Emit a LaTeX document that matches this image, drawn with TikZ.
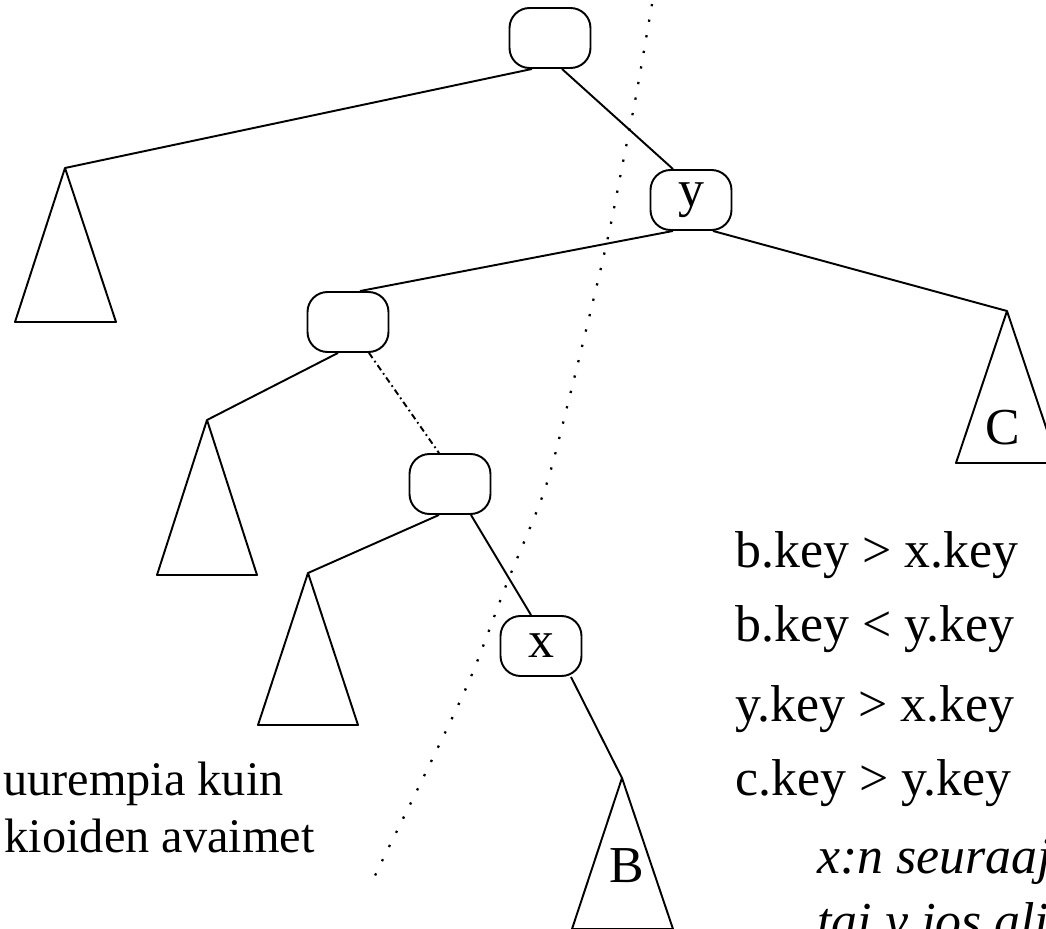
\documentclass[tikz,border=0pt]{standalone}
\usepackage{fontspec}
\setmainfont{Liberation Serif}
\newcommand{\bigtext}{\fontsize{29.5}{35}\selectfont}
\newcommand{\notetext}{\fontsize{27.5}{33}\selectfont}
\tikzset{
  treeline/.style={line width=1.1pt},
  keynode/.style={draw, line width=1.1pt, rounded corners=0.4cm,
    minimum width=1.62cm, minimum height=1.2cm, inner sep=0pt, font=\bigtext},
  keytext/.style={inner sep=0pt, font=\bigtext},
  boundary/.style={line width=1.3pt, dash pattern=on 1.3pt off 7.7pt},
  hidden/.style={line width=1.1pt, dash pattern=on 3.5pt off 2pt on 1pt off 2pt}
}

\begin{document}
\begin{tikzpicture}[x=0.02cm, y=-0.02cm, line join=round]
  \useasboundingbox (0,0) rectangle (1046,929);
  \clip (0,0) rectangle (1046,929);

  % Tree nodes
  \node[keynode] (root) at (550,38) {};
  \node[keynode] (ynode) at (691,200) {y};
  \node[keynode] (mid) at (348,322) {};
  \node[keynode] (low) at (450,484) {};
  \node[keynode] (xnode) at (541,646) {x};

  % Subtrees
  \coordinate (leftsub) at (65,168);
  \draw[treeline] (leftsub) -- (15,322) -- (116,322) -- cycle;
  \coordinate (midsub) at (207,420);
  \draw[treeline] (midsub) -- (157,575) -- (257,575) -- cycle;
  \coordinate (lowsub) at (308,573);
  \draw[treeline] (lowsub) -- (258,725) -- (358,725) -- cycle;
  \coordinate (csub) at (1007,311);
  \draw[treeline] (csub) -- (956,463) -- (1058,463) -- cycle;
  \node[keytext] (clabel) at (1003,428) {C};
  \coordinate (bsub) at (622,778);
  \draw[treeline] (bsub) -- (572,929) -- (673,929) -- cycle;
  \node[keytext] (blabel) at (627,866) {B};

  % Edges
  \draw[treeline] ([xshift=-0.36cm]root.south) -- (leftsub);
  \draw[treeline] ([xshift=0.24cm]root.south) -- ([xshift=-0.36cm]ynode.north);
  \draw[treeline] ([xshift=-0.36cm]ynode.south) -- ([xshift=0.24cm]mid.north);
  \draw[treeline] ([xshift=0.44cm]ynode.south) -- (csub);
  \draw[treeline] ([xshift=-0.2cm]mid.south) -- (midsub);
  \draw[hidden] ([xshift=0.42cm]mid.south) -- ([xshift=-0.22cm]low.north);
  \draw[treeline] ([xshift=-0.22cm]low.south) -- (lowsub);
  \draw[treeline] ([xshift=0.42cm]low.south) -- ([xshift=-0.2cm]xnode.north);
  \draw[treeline] ([xshift=0.6cm]xnode.south) -- (bsub);

  % Dividing curve
  \draw[boundary] plot[smooth] coordinates {(652,4) (636,96) (623,162)
    (610,228) (595,293) (570,395) (545,489) (507,583) (470,679) (427,770)
    (385,855) (372,882)};

  % Key relations
  \node[keytext, anchor=base west] (rel1) at (735,568) {b.key > x.key};
  \node[keytext, anchor=base west] (rel2) at (735,642) {b.key < y.key};
  \node[keytext, anchor=base west] (rel3) at (735,722) {y.key > x.key};
  \node[keytext, anchor=base west] (rel4) at (735,795) {c.key > y.key};

  % Side notes
  \node[keytext, anchor=base east, font=\notetext] (note1) at (284,795) {uurempia kuin};
  \node[keytext, anchor=base east, font=\notetext] (note2) at (315,852) {kioiden avaimet};
  \node[keytext, anchor=base west, font=\bigtext\itshape] (succ1) at (817,873) {x:n seuraaja};
  \node[keytext, anchor=base west, font=\bigtext\itshape] (succ2) at (817,938) {tai y jos ali};
\end{tikzpicture}
\end{document}
